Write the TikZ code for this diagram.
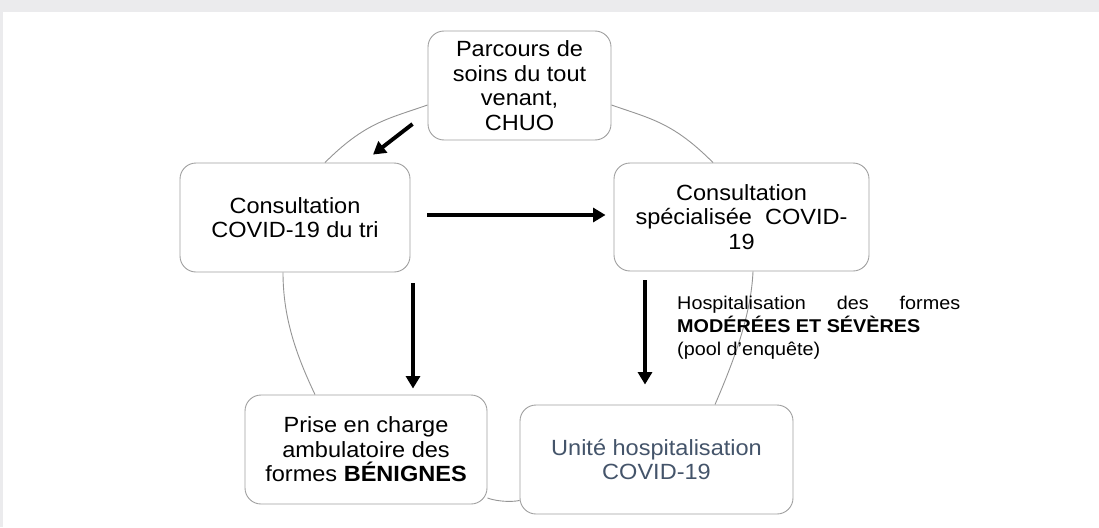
\documentclass[tikz,border=0pt]{standalone}
\usepackage{fontspec}
\setmainfont{Liberation Sans}[FakeStretch=1.07]
\usetikzlibrary{arrows.meta,calc}
\definecolor{bggray}{HTML}{EBEBED}
\definecolor{boxline}{HTML}{A0A0A0}
\definecolor{ringline}{HTML}{959595}
\definecolor{slate}{HTML}{44546A}
\begin{document}
\begin{tikzpicture}[x=1pt,y=-1pt,
  box/.style={draw=boxline, line width=0.9pt, fill=white, rounded corners=16pt,
    align=center, inner sep=0pt, font=\fontsize{22}{24.5}\selectfont},
  ring/.style={draw=ringline, line width=0.9pt},
  flow/.style={line width=3.9pt, -{Triangle[width=14pt,length=12.5pt]}},
]
\fill[bggray] (0,0) rectangle (1099,527);
\fill[white] (3,12) rectangle (1099,527);
\useasboundingbox (0,0) rectangle (1099,527);

\node[box, minimum width=183pt, minimum height=109pt] (top) at (519.5,85.5)
  {Parcours de\\soins du tout\\venant,\\CHUO};
\node[box, minimum width=230pt, minimum height=109pt] (tri) at (295,217.5)
  {Consultation\\COVID-19 du tri};
\node[box, minimum width=255pt, minimum height=108pt] (spec) at (741.5,217)
  {Consultation\\spécialisée\ \ COVID-\\19};
\node[box, minimum width=242pt, minimum height=109pt] (prise) at (366,449.5)
  {Prise en charge\\ambulatoire des\\formes \textbf{BÉNIGNES}};
\node[box, minimum width=273pt, minimum height=109pt, text=slate] (unite) at (656.5,459.5)
  {Unité hospitalisation\\COVID-19};

% ring segments
\draw[ring] ($(top.west)+(0,19.5)$) .. controls +(-40,14) and +(40,-40) .. ($(tri.north)+(30,0)$);
\draw[ring] ($(top.east)+(0,19.5)$) .. controls +(40,14) and +(-40,-40) .. ($(spec.north)+(-28.5,0)$);
\draw[ring] ($(tri.south)+(-12,0)$) .. controls +(0,45) and +(-19,-40) .. ($(prise.north)+(-51,0)$);
\draw[ring] ($(spec.south)+(11.5,0)$) .. controls +(-2,45) and +(18,-42) .. ($(unite.north)+(58.5,0)$);
\draw[ring] ($(prise.east)+(0,48.5)$) .. controls +(8,3) and +(-10,2) .. ($(unite.west)+(0,41)$);

% arrows
\draw[flow] ($(top.west)+(-15,38.5)$) -- ($(tri.north)+(78,-8)$);
\draw[flow] ($(tri.east)+(17,-2.5)$) -- ($(spec.west)+(-8,-2)$);
\draw[flow] ($(tri.south)+(118,11)$) -- ($(prise.north)+(47,-6)$);
\draw[flow] ($(spec.south)+(-96.5,9)$) -- ($(unite.north)+(-11.5,-20)$);

\node[anchor=north west, align=left, inner sep=0pt,
  font=\fontsize{18.5}{23}\selectfont] (lab) at (677,295.5)
  {\hbox to 283pt{Hospitalisation\hfill des\hfill formes}\\
   \textbf{MODÉRÉES ET SÉVÈRES}\\
   (pool d’enquête)};
\end{tikzpicture}
\end{document}
